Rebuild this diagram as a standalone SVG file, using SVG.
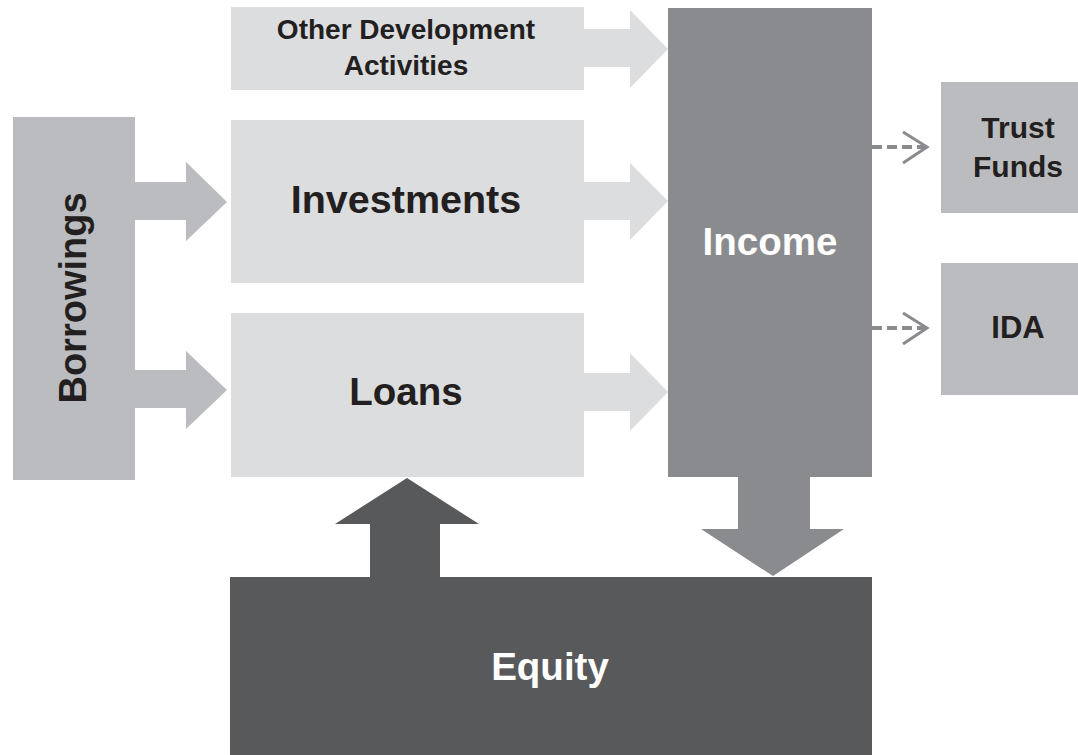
<svg xmlns="http://www.w3.org/2000/svg" width="1078" height="755" viewBox="0 0 1078 755">
<style>
.lt{fill:#dcdddf}
.md{fill:#bbbcbf}
.dk{fill:#8a8b8e}
.xd{fill:#58595b}
text{font-family:"Liberation Sans",Arial,Helvetica,sans-serif;font-weight:bold;text-anchor:middle}
.bt{fill:#231f20}
.wt{fill:#ffffff}
.dash{fill:none;stroke:#8a8b8e;stroke-width:4;stroke-dasharray:10 5}
.chev{fill:none;stroke:#8a8b8e;stroke-width:3}
</style>
<rect width="1078" height="755" fill="#ffffff"/>
<g id="connectors">
<polygon class="lt" points="584,29 630,29 630,10 668,49 630,88 630,67 584,67"/>
<polygon class="lt" points="584,182 630,182 630,163 668,201 630,240 630,220 584,220"/>
<polygon class="lt" points="584,373 630,373 630,353 668,392 630,431 630,411 584,411"/>
<polygon class="md" points="134,182 186,182 186,162 227,202 186,241 186,220 134,220"/>
<polygon class="md" points="134,370 186,370 186,351 227,390 186,429 186,408 134,408"/>
<polygon class="xd" points="370,578 370,524 335,524 407,478 479,524 440,524 440,578"/>
<polygon class="dk" points="738,476 810,476 810,529 844,529 773,576 701,529 738,529"/>
<line class="dash" x1="872" y1="147" x2="926" y2="147"/>
<polyline class="chev" points="903,132 927,147 903,163"/>
<line class="dash" x1="872" y1="328" x2="926" y2="328"/>
<polyline class="chev" points="903,313 927,328 903,344"/>
</g>
<g id="other-development">
<rect class="lt" x="231" y="7" width="353" height="83"/>
<text class="bt" x="406" y="39" font-size="28">Other Development</text>
<text class="bt" x="406" y="75" font-size="28">Activities</text>
</g>
<g id="investments">
<rect class="lt" x="231" y="120" width="353" height="163"/>
<text class="bt" x="406" y="213" font-size="39.5">Investments</text>
</g>
<g id="loans">
<rect class="lt" x="231" y="313" width="353" height="164"/>
<text class="bt" x="406" y="405" font-size="38.5">Loans</text>
</g>
<g id="borrowings">
<rect class="md" x="13" y="117" width="122" height="363"/>
<text class="bt" transform="translate(86,298) rotate(-90)" font-size="38">Borrowings</text>
</g>
<g id="income">
<rect class="dk" x="668" y="8" width="204" height="469"/>
<text class="wt" x="770" y="255" font-size="38.5">Income</text>
</g>
<g id="trust-funds">
<rect class="md" x="941" y="82" width="150" height="131"/>
<text class="bt" x="1018" y="138" font-size="30">Trust</text>
<text class="bt" x="1018" y="177" font-size="30">Funds</text>
</g>
<g id="ida">
<rect class="md" x="941" y="263" width="150" height="132"/>
<text class="bt" x="1018" y="338" font-size="31">IDA</text>
</g>
<g id="equity">
<rect class="xd" x="230" y="577" width="642" height="190"/>
<text class="wt" x="550" y="680" font-size="38.5">Equity</text>
</g>
</svg>
